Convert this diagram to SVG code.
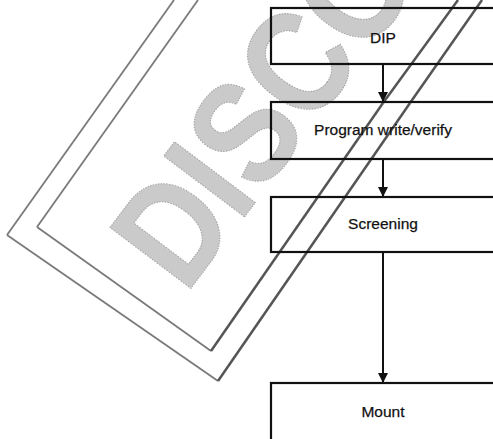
<svg xmlns="http://www.w3.org/2000/svg" width="493" height="439" viewBox="0 0 493 439">
<style>
.box{fill:none;stroke:#111;stroke-width:2.2}
.lbl{font-family:"Liberation Sans",Arial,sans-serif;font-size:15.5px;fill:#111;stroke:#111;stroke-width:0.25;text-anchor:middle}
.edge{stroke:#111;stroke-width:2}
.stamp{fill:none;stroke:#7a7a7a;stroke-width:1.8}
.stamp2{fill:none;stroke:#555;stroke-width:2.5}
.stamptxt{font-family:"Liberation Sans",Arial,sans-serif;font-weight:bold;font-size:147px;fill:#cacaca;stroke:#a5a5a5;stroke-width:1.2;stroke-dasharray:1.5 1.5}
</style>
<defs>
<marker id="ah" viewBox="0 0 10 10" refX="10" refY="5" markerWidth="10" markerHeight="10" markerUnits="userSpaceOnUse" orient="auto">
<path d="M0,0 L10,5 L0,10 Z" fill="#111"/>
</marker>
</defs>
<rect width="493" height="439" fill="#fff"/>
<g id="watermark">
<line class="stamp" x1="174" y1="0" x2="7" y2="235"/>
<line class="stamp" x1="7" y1="235" x2="218" y2="381"/>
<line class="stamp" x1="198" y1="0" x2="37" y2="227"/>
<line class="stamp" x1="37" y1="227" x2="211" y2="351"/>
<line class="stamp2" x1="218" y1="381" x2="410" y2="103"/>
<line class="stamp2" x1="410" y1="103" x2="482" y2="0"/>
<line class="stamp2" x1="211" y1="351" x2="383" y2="103"/>
<line class="stamp2" x1="383" y1="103" x2="458" y2="0"/>
<text class="stamptxt" transform="translate(7,233) rotate(-53) scale(0.845,1)" x="68.6" y="180">DISCO</text>
</g>
<g id="connectors">
<line class="edge" x1="383" y1="64" x2="383" y2="102" marker-end="url(#ah)"/>
<line class="edge" x1="383" y1="159" x2="383" y2="197" marker-end="url(#ah)"/>
<line class="edge" x1="383" y1="252" x2="383" y2="383" marker-end="url(#ah)"/>
</g>
<g id="dip">
<rect class="box" x="271" y="8" width="224" height="56"/>
<text class="lbl" x="383" y="43">DIP</text>
</g>
<g id="program">
<rect class="box" x="271" y="102" width="224" height="57"/>
<text class="lbl" x="383" y="135">Program write/verify</text>
</g>
<g id="screening">
<rect class="box" x="271" y="197" width="224" height="55"/>
<text class="lbl" x="383" y="229">Screening</text>
</g>
<g id="mount">
<rect class="box" x="271" y="383" width="224" height="70"/>
<text class="lbl" x="383" y="417">Mount</text>
</g>
</svg>
